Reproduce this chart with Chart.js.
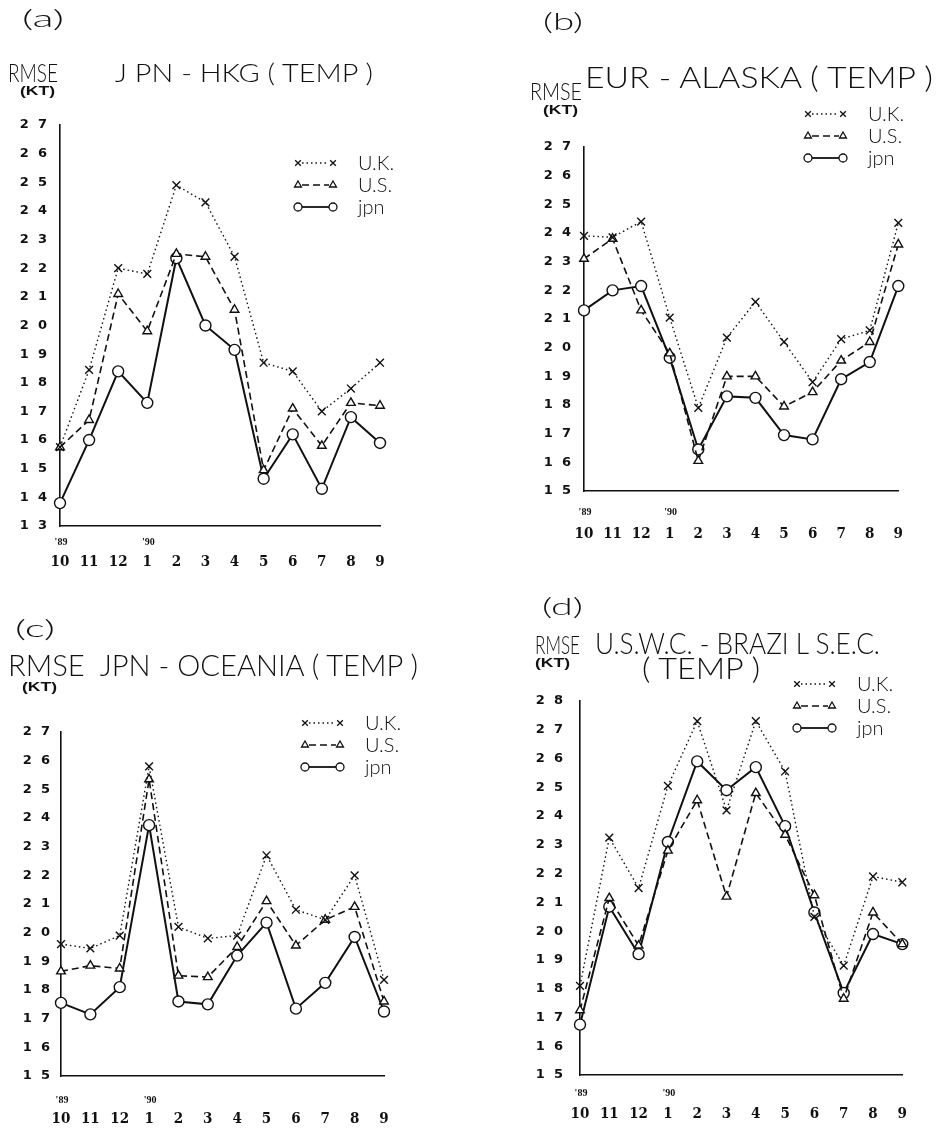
<!DOCTYPE html>
<html>
<head>
<meta charset="utf-8">
<script src="https://cdn.jsdelivr.net/npm/chart.js@4.4.0/dist/chart.umd.min.js"></script>
<style>
  body { margin: 0; background: #fff; width: 937px; height: 1131px; position: relative; overflow: hidden; color: #111; }
  canvas { position: absolute; }
  .t { position: absolute; white-space: pre; line-height: 1; transform-origin: 0 0; font-family: Lato, "Open Sans", sans-serif; font-weight: 300; }
  .kt { font-family: "Liberation Sans", sans-serif; font-weight: bold; }
</style>
</head>
<body>
<script>
// Months, Oct '89 .. Sep '90
const months = ['10', '11', '12', '1', '2', '3', '4', '5', '6', '7', '8', '9'];
const yearMarks = ["'89", '', '', "'90", '', '', '', '', '', '', '', ''];
const seriesNames = ['U.K.', 'U.S.', 'jpn'];

// (a) JPN - HKG
const hkgRange = [13, 27];
const hkgUK = [15.75, 18.45, 22.0, 21.8, 24.9, 24.3, 22.4, 18.7, 18.4, 17.0, 17.8, 18.7];
const hkgUS = [15.75, 16.7, 21.1, 19.8, 22.5, 22.4, 20.55, 14.95, 17.1, 15.8, 17.3, 17.2];
const hkgJPN = [13.8, 16.0, 18.4, 17.3, 22.35, 20.0, 19.15, 14.65, 16.2, 14.3, 16.8, 15.9];

// (b) EUR - ALASKA
const alaskaRange = [15, 27];
const alaskaUK = [23.9, 23.85, 24.4, 21.05, 17.9, 20.35, 21.6, 20.2, 18.8, 20.3, 20.6, 24.35];
const alaskaUS = [23.1, 23.8, 21.3, 19.8, 16.05, 19.0, 19.0, 17.95, 18.45, 19.55, 20.2, 23.6];
const alaskaJPN = [21.3, 22.0, 22.15, 19.65, 16.45, 18.3, 18.25, 16.95, 16.8, 18.9, 19.5, 22.15];

// (c) JPN - OCEANIA
const oceaniaRange = [15, 27];
const oceaniaUK = [19.6, 19.45, 19.9, 25.8, 20.2, 19.8, 19.9, 22.7, 20.8, 20.45, 22.0, 18.35];
const oceaniaUS = [18.65, 18.85, 18.75, 25.35, 18.5, 18.45, 19.5, 21.1, 19.55, 20.45, 20.9, 17.6];
const oceaniaJPN = [17.55, 17.15, 18.1, 23.75, 17.6, 17.5, 19.2, 20.35, 17.35, 18.25, 19.85, 17.25];

// (d) U.S.W.C. - BRAZIL S.E.C.
const brazilRange = [15, 28];
const brazilUK = [18.1, 23.25, 21.5, 25.05, 27.3, 24.2, 27.3, 25.55, 20.5, 18.8, 21.9, 21.7];
const brazilUS = [17.25, 21.15, 19.5, 22.8, 24.55, 21.2, 24.8, 23.35, 21.25, 17.65, 20.65, 19.55];
const brazilJPN = [16.75, 20.85, 19.2, 23.1, 25.9, 24.9, 25.7, 23.65, 20.65, 17.85, 19.9, 19.55];

Chart.defaults.animation = false;
Chart.defaults.color = '#111';

// line styles for the three forecast centres
const styles = [
    { pointStyle: 'crossRot', radius: 5.5, dash: [1.5, 3], width: 1.4 },
    { pointStyle: 'triangle', radius: 5, dash: [7, 4], width: 1.6 },
    { pointStyle: 'circle', radius: 5.5, dash: [], width: 2 }
];

/**
 * Place a text block and squeeze it to the wanted width
 */
function placeText(str, left, capTop, width, size, cls) {
    const el = document.createElement('div');
    el.className = cls || 't';
    el.textContent = str;
    el.style.fontSize = size + 'px';
    el.style.left = left + 'px';
    el.style.top = (capTop - 0.17 * size) + 'px';
    document.body.appendChild(el);
    const w = el.getBoundingClientRect().width;
    if (w > 0) el.style.transform = 'scaleX(' + (width / w) + ')';
}

// hand drawn key in the upper right of each panel
const keyPlugin = {
    id: 'seriesKey',
    afterDraw(chart, args, opts) {
        const { ctx } = chart;
        ctx.save();
        styles.forEach((s, i) => {
            const y = opts.y + i * opts.gap;
            const x0 = opts.x, x1 = opts.x + 35;
            const r = 4;
            ctx.strokeStyle = '#111';
            ctx.lineWidth = s.width * 0.9;
            ctx.setLineDash(s.dash);
            ctx.beginPath();
            ctx.moveTo(x0 + r, y);
            ctx.lineTo(x1 - r, y);
            ctx.stroke();
            ctx.setLineDash([]);
            ctx.fillStyle = '#fff';
            ctx.lineWidth = 1.3;
            [x0, x1].forEach(x => {
                Chart.helpers.drawPoint(ctx, { pointStyle: s.pointStyle, radius: r, borderWidth: 1.3, rotation: 0 }, x, y);
            });
            ctx.fillStyle = '#111';
            ctx.font = '300 20px Lato, "Open Sans", sans-serif';
            ctx.textBaseline = 'middle';
            ctx.fillText(seriesNames[i], opts.x + 60, y + 1);
        });
        ctx.restore();
    }
};

// '89 / '90 marks above the month numbers
const yearPlugin = {
    id: 'yearMarks',
    afterDraw(chart, args, opts) {
        const { ctx } = chart;
        const xs = chart.scales.x;
        ctx.save();
        ctx.fillStyle = '#111';
        ctx.font = 'bold 10px "Liberation Serif", serif';
        ctx.textAlign = 'center';
        ctx.textBaseline = 'middle';
        yearMarks.forEach((m, i) => {
            if (m) ctx.fillText(m, xs.getPixelForValue(i) + 1, xs.top + opts.gap);
        });
        ctx.restore();
    }
};

/**
 * Build one panel chart
 */
function makePanel(p) {
    const c = document.createElement('canvas');
    c.width = p.box.w;
    c.height = p.box.h;
    c.style.left = p.box.x + 'px';
    c.style.top = p.box.y + 'px';
    c.style.width = p.box.w + 'px';
    c.style.height = p.box.h + 'px';
    document.body.appendChild(c);

    const yWidth = p.plot.l - p.box.x;
    const xHeight = p.box.y + p.box.h - p.plot.b;

    new Chart(c, {
        type: 'line',
        data: {
            labels: months,
            datasets: p.series.map((d, i) => ({
                label: seriesNames[i],
                data: d,
                borderColor: '#111',
                borderWidth: styles[i].width,
                borderDash: styles[i].dash,
                pointStyle: styles[i].pointStyle,
                pointRadius: styles[i].radius,
                pointBackgroundColor: '#fff',
                pointBorderColor: '#111',
                pointBorderWidth: 1.4,
                tension: 0,
                fill: false
            }))
        },
        options: {
            responsive: false,
            maintainAspectRatio: false,
            layout: {
                padding: { left: 0, bottom: 0, top: p.plot.t - p.box.y, right: p.box.x + p.box.w - p.plot.r }
            },
            scales: {
                x: {
                    grid: { display: false, drawTicks: false },
                    border: { display: true, color: '#111', width: 1.6 },
                    ticks: {
                        autoSkip: false,
                        maxRotation: 0,
                        padding: p.labelGap,
                        font: { family: '"DejaVu Serif Condensed", "Liberation Serif", serif', weight: 'bold', size: 15 },
                        color: '#111'
                    },
                    afterFit: (s) => { s.height = xHeight; }
                },
                y: {
                    min: p.range[0],
                    max: p.range[1],
                    grid: { display: false, drawTicks: false },
                    border: { display: true, color: '#111', width: 1.6 },
                    ticks: {
                        stepSize: 1,
                        padding: p.tickGap,
                        font: { family: '"DejaVu Sans", sans-serif', weight: 'bold', size: 13 },
                        color: '#111',
                        callback: (v) => String(v).split('').join('  ')
                    },
                    afterFit: (s) => { s.width = yWidth; }
                }
            },
            plugins: {
                legend: { display: false },
                tooltip: { enabled: false },
                seriesKey: { x: p.key.x - p.box.x, y: p.key.y - p.box.y, gap: 22 },
                yearMarks: { gap: p.yearGap }
            }
        },
        plugins: [keyPlugin, yearPlugin]
    });
}

makePanel({
    box: { x: 0, y: 0, w: 468, h: 590 },
    plot: { l: 60, r: 380, t: 125, b: 526 },
    range: hkgRange,
    series: [hkgUK, hkgUS, hkgJPN],
    key: { x: 298, y: 163 },
    labelGap: 27, yearGap: 16, tickGap: 13
});
makePanel({
    box: { x: 468, y: 0, w: 469, h: 590 },
    plot: { l: 584, r: 908, t: 147, b: 491 },
    range: alaskaRange,
    series: [alaskaUK, alaskaUS, alaskaJPN],
    key: { x: 808, y: 114 },
    labelGap: 34, yearGap: 21, tickGap: 13
});
makePanel({
    box: { x: 0, y: 590, w: 468, h: 541 },
    plot: { l: 61, r: 384, t: 732, b: 1076 },
    range: oceaniaRange,
    series: [oceaniaUK, oceaniaUS, oceaniaJPN],
    key: { x: 305, y: 723 },
    labelGap: 34, yearGap: 24, tickGap: 11
});
makePanel({
    box: { x: 468, y: 590, w: 469, h: 541 },
    plot: { l: 580, r: 907, t: 701, b: 1075 },
    range: brazilRange,
    series: [brazilUK, brazilUS, brazilJPN],
    key: { x: 797, y: 684 },
    labelGap: 30, yearGap: 18, tickGap: 17
});

// panel titles
placeText('(a)', 22, 10, 42, 24);
placeText('RMSE', 8, 63, 50, 26);
placeText('J PN - HKG ( TEMP )', 115, 63, 258, 26);
placeText('(KT)', 20, 87, 35, 12, 't kt');

placeText('(b)', 543, 13, 40, 24);
placeText('RMSE', 530, 83, 52, 24);
placeText('EUR - ALASKA ( TEMP )', 585, 67, 348, 29);
placeText('(KT)', 543, 106, 35, 12, 't kt');

placeText('(c)', 15, 620, 40, 24);
placeText('RMSE  JPN - OCEANIA ( TEMP )', 8, 654, 410, 30);
placeText('(KT)', 22, 683, 35, 12, 't kt');

placeText('(d)', 542, 598, 41, 24);
placeText('RMSE', 535, 636, 45, 25);
placeText('U.S.W.C. - BRAZI L S.E.C.', 595, 632, 285, 30);
placeText('( TEMP )', 642, 658, 118, 29);
placeText('(KT)', 535, 659, 35, 12, 't kt');
</script>
</body>
</html>
